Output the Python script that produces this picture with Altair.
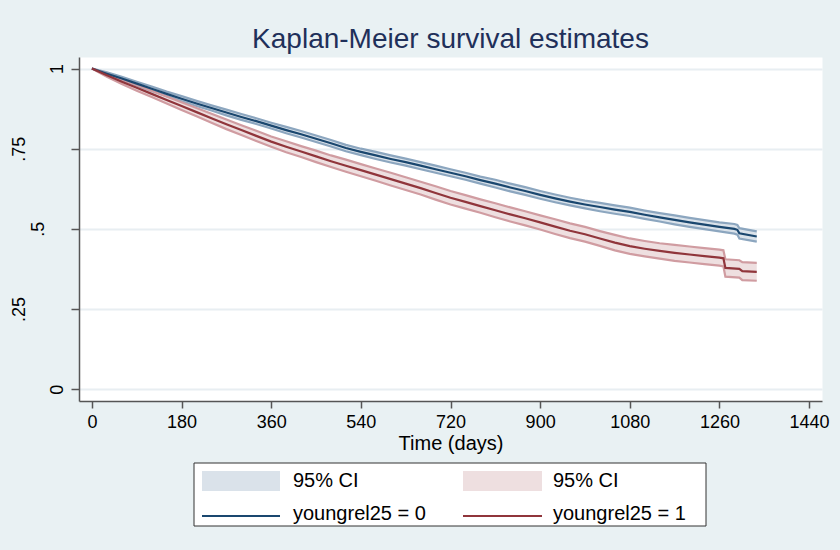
import altair as alt
import pandas as pd

# ---------------- data ----------------
# group youngrel25 = 0
T0 = [0, 30, 60, 90, 120, 150, 180, 210, 240, 270, 300, 330, 360, 390, 420, 450, 480,
      510, 540, 570, 600, 630, 660, 690, 720, 750, 780, 810, 840, 870, 900, 930, 960,
      990, 1020, 1050, 1080, 1110, 1140, 1170, 1200, 1230, 1260, 1290, 1296, 1300, 1335]
S0 = [1.000, 0.984, 0.969, 0.953, 0.937, 0.921, 0.906, 0.891, 0.877, 0.863, 0.849, 0.836,
      0.822, 0.808, 0.795, 0.781, 0.767, 0.752, 0.740, 0.729, 0.718, 0.708, 0.697, 0.686,
      0.675, 0.664, 0.652, 0.641, 0.629, 0.618, 0.606, 0.595, 0.585, 0.576, 0.568, 0.560,
      0.553, 0.544, 0.536, 0.528, 0.520, 0.513, 0.506, 0.500, 0.497, 0.486, 0.476]
LO0 = [1.000, 0.980, 0.964, 0.947, 0.930, 0.914, 0.898, 0.883, 0.869, 0.854, 0.840, 0.827,
       0.813, 0.798, 0.785, 0.771, 0.757, 0.742, 0.730, 0.718, 0.707, 0.697, 0.686, 0.675,
       0.664, 0.653, 0.641, 0.629, 0.617, 0.606, 0.594, 0.583, 0.573, 0.564, 0.555, 0.547,
       0.540, 0.531, 0.523, 0.514, 0.506, 0.499, 0.492, 0.485, 0.482, 0.470, 0.460]
HI0 = [1.000, 0.988, 0.974, 0.959, 0.944, 0.928, 0.914, 0.899, 0.885, 0.872, 0.858, 0.845,
       0.831, 0.818, 0.805, 0.791, 0.777, 0.762, 0.750, 0.740, 0.729, 0.719, 0.708, 0.697,
       0.686, 0.675, 0.663, 0.653, 0.641, 0.630, 0.618, 0.607, 0.597, 0.588, 0.581, 0.573,
       0.566, 0.557, 0.549, 0.542, 0.534, 0.527, 0.520, 0.515, 0.512, 0.502, 0.492]

# group youngrel25 = 1
T1 = [0, 30, 60, 90, 120, 150, 180, 210, 240, 270, 300, 330, 360, 390, 420, 450, 480,
      510, 540, 570, 600, 630, 660, 690, 720, 750, 780, 810, 840, 870, 900, 930, 960,
      990, 1020, 1050, 1080, 1110, 1140, 1170, 1200, 1230, 1260, 1268, 1272, 1300, 1306, 1335]
S1 = [1.000, 0.979, 0.959, 0.940, 0.921, 0.902, 0.883, 0.864, 0.845, 0.826, 0.808, 0.790,
      0.772, 0.756, 0.741, 0.726, 0.711, 0.697, 0.683, 0.669, 0.655, 0.641, 0.627, 0.612,
      0.597, 0.584, 0.571, 0.558, 0.545, 0.533, 0.520, 0.507, 0.494, 0.483, 0.470, 0.457,
      0.446, 0.438, 0.431, 0.425, 0.420, 0.415, 0.410, 0.408, 0.378, 0.375, 0.368, 0.366]
LO1 = [1.000, 0.974, 0.952, 0.931, 0.911, 0.891, 0.871, 0.851, 0.831, 0.811, 0.793, 0.774,
       0.756, 0.739, 0.724, 0.708, 0.693, 0.678, 0.664, 0.650, 0.635, 0.621, 0.607, 0.591,
       0.576, 0.563, 0.550, 0.536, 0.523, 0.511, 0.498, 0.484, 0.471, 0.460, 0.447, 0.433,
       0.422, 0.414, 0.407, 0.400, 0.395, 0.390, 0.385, 0.383, 0.351, 0.348, 0.340, 0.338]
HI1 = [1.000, 0.984, 0.966, 0.949, 0.931, 0.913, 0.895, 0.877, 0.859, 0.841, 0.823, 0.806,
       0.788, 0.773, 0.758, 0.744, 0.729, 0.716, 0.702, 0.688, 0.675, 0.661, 0.647, 0.633,
       0.618, 0.605, 0.592, 0.580, 0.567, 0.555, 0.542, 0.530, 0.517, 0.506, 0.493, 0.481,
       0.470, 0.462, 0.455, 0.450, 0.445, 0.440, 0.435, 0.433, 0.405, 0.402, 0.396, 0.394]

X_TICKS = [0, 180, 360, 540, 720, 900, 1080, 1260, 1440]
Y_TICKS = [0, 0.25, 0.5, 0.75, 1]
TITLE = "Kaplan-Meier survival estimates"
X_TITLE = "Time (days)"
LEGEND_LABELS = ["95% CI", "95% CI", "youngrel25 = 0", "youngrel25 = 1"]

# ---------------- styles ----------------
FONT = "Liberation Sans"
BG = "#e9f1f3"
GRID = "#e8eef2"
AXIS_C = "#555555"
LINE0, BAND0, EDGE0 = "#1a476f", "#dae2ea", "#8ca6bf"
LINE1, BAND1, EDGE1 = "#90353b", "#eedfe0", "#d09ca1"

df0 = pd.DataFrame({"t": T0, "s": S0, "lo": LO0, "hi": HI0})
df1 = pd.DataFrame({"t": T1, "s": S1, "lo": LO1, "hi": HI1})

xscale = alt.Scale(domain=[-26, 1466], nice=False, zero=False)
yscale = alt.Scale(domain=[-0.037, 1.036], nice=False, zero=False)

xaxis = alt.Axis(values=X_TICKS, format="d", title=X_TITLE, grid=False, tickSize=7,
                 tickWidth=1.5, tickColor=AXIS_C, domainColor=AXIS_C, domainWidth=1.5,
                 labelFontSize=18, labelColor="black", labelPadding=5,
                 labelBaseline="top", titleFontSize=20, titleColor="black",
                 titleFontWeight="normal", titlePadding=2, labelFlush=False)
yaxis = alt.Axis(values=Y_TICKS, title="", grid=True, gridColor=GRID, gridWidth=2,
                 tickSize=8, tickWidth=1.5, tickColor=AXIS_C, domainColor=AXIS_C,
                 domainWidth=1.5, labelFontSize=18, labelColor="black", labelAngle=270,
                 labelAlign="center", labelBaseline="alphabetic",
                 labelExpr="replace(toString(datum.value), '0.', '.')",
                 labelPadding={"condition": [
                     {"test": "datum.value == 0.5", "value": 28},
                     {"test": "datum.value == 0.25 || datum.value == 0.75", "value": 47}],
                     "value": 9})

X = alt.X("t:Q", scale=xscale, axis=xaxis)


def band(df, fill):
    return alt.Chart(df).mark_area(fill=fill, opacity=1).encode(
        x=X, y=alt.Y("lo:Q", scale=yscale, axis=yaxis), y2="hi:Q")


def edge(df, field, color):
    return alt.Chart(df).mark_line(color=color, strokeWidth=2.2).encode(
        x=X, y=alt.Y(f"{field}:Q", scale=yscale, axis=yaxis))


def center(df, color):
    return alt.Chart(df).mark_line(color=color, strokeWidth=2.2).encode(
        x=X, y=alt.Y("s:Q", scale=yscale, axis=yaxis))


one = pd.DataFrame({"k": [0]})
lab = pd.DataFrame({"label": LEGEND_LABELS, "i": [0, 1, 2, 3]})

legend_box = alt.Chart(one).mark_rect(fill="white", stroke="#333333", strokeWidth=1).encode(
    x=alt.value(115), x2=alt.value(627), y=alt.value(406), y2=alt.value(469))
sw0 = alt.Chart(one).mark_rect(fill=BAND0).encode(
    x=alt.value(123), x2=alt.value(201), y=alt.value(414), y2=alt.value(434))
sw1 = alt.Chart(one).mark_rect(fill=BAND1).encode(
    x=alt.value(384), x2=alt.value(463), y=alt.value(414), y2=alt.value(434))
ln0 = alt.Chart(one).mark_rule(color=LINE0, strokeWidth=2).encode(
    x=alt.value(123), x2=alt.value(201), y=alt.value(459))
ln1 = alt.Chart(one).mark_rule(color=LINE1, strokeWidth=2).encode(
    x=alt.value(384), x2=alt.value(463), y=alt.value(459))

pos = [(214, 424), (474, 424), (214, 457), (474, 457)]
texts = [
    alt.Chart(lab).transform_filter(f"datum.i == {i}").mark_text(
        align="left", baseline="middle", fontSize=20, font=FONT, color="black").encode(
        x=alt.value(px), y=alt.value(py), text="label:N")
    for i, (px, py) in enumerate(pos)
]

chart = alt.layer(
    band(df0, BAND0), band(df1, BAND1),
    edge(df0, "lo", EDGE0), edge(df0, "hi", EDGE0),
    edge(df1, "lo", EDGE1), edge(df1, "hi", EDGE1),
    center(df0, LINE0), center(df1, LINE1),
    legend_box, sw0, sw1, ln0, ln1, *texts,
).properties(
    width=743, height=344,
    autosize=alt.AutoSizeParams(type="none"),
    padding={"left": 79, "top": 57, "right": 18, "bottom": 149},
    background=BG,
    title=alt.Title(TITLE, fontSize=28, font=FONT, color="#1f305a", fontWeight="normal",
                    anchor="middle", offset=9, baseline="alphabetic", dy=28),
).configure(font=FONT).configure_view(fill="white", stroke="transparent")

chart.save("out.html", embed_options={"renderer": "svg", "actions": False})
